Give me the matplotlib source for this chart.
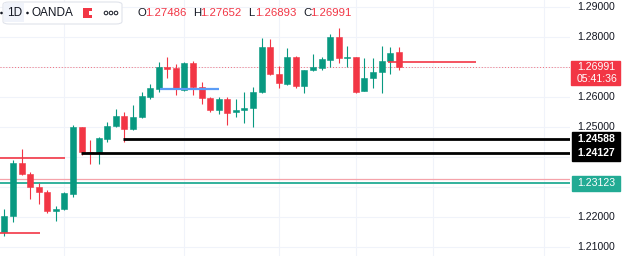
import numpy as np
import matplotlib.pyplot as plt
from matplotlib.patches import Rectangle, FancyBboxPatch, Ellipse
from matplotlib.transforms import blended_transform_factory

plt.rcParams['font.family'] = ['Liberation Sans', 'DejaVu Sans']

GREEN = "#089981"
RED = "#F23645"

# daily candles, oldest first
opens = [1.2150, 1.2203, 1.2380, 1.2343, 1.2300, 1.2283, 1.2220, 1.2227, 1.2277, 1.2500,
         1.2417, 1.2417, 1.2460, 1.2503, 1.2537, 1.2493, 1.2533, 1.2600, 1.2627, 1.2700,
         1.2697, 1.2623, 1.2713, 1.2633, 1.2597, 1.2557, 1.2593, 1.2550, 1.2557, 1.2563,
         1.2617, 1.2767, 1.2677, 1.2643, 1.2733, 1.2637, 1.2690, 1.2697, 1.2723, 1.2800,
         1.2730, 1.2733, 1.2620, 1.2663, 1.2683, 1.2720, 1.27486]
highs = [1.2227, 1.2390, 1.2427, 1.2350, 1.2313, 1.2290, 1.2237, 1.2283, 1.2507, 1.2500,
         1.2457, 1.2467, 1.2517, 1.2560, 1.2550, 1.2573, 1.2617, 1.2643, 1.2717, 1.2733,
         1.2710, 1.2717, 1.2720, 1.2650, 1.2600, 1.2600, 1.2600, 1.2593, 1.2617, 1.2633,
         1.2797, 1.2793, 1.2703, 1.2763, 1.2737, 1.2690, 1.2743, 1.2733, 1.2810, 1.2830,
         1.2770, 1.2733, 1.2730, 1.2730, 1.2770, 1.2767, 1.27652]
lows = [1.2137, 1.2183, 1.2340, 1.2260, 1.2243, 1.2213, 1.2187, 1.2223, 1.2267, 1.2407,
        1.2377, 1.2377, 1.2450, 1.2500, 1.2450, 1.2490, 1.2530, 1.2593, 1.2617, 1.2663,
        1.2607, 1.2620, 1.2607, 1.2577, 1.2550, 1.2543, 1.2507, 1.2533, 1.2513, 1.2500,
        1.2613, 1.2673, 1.2630, 1.2640, 1.2630, 1.2613, 1.2687, 1.2690, 1.2700, 1.2713,
        1.2700, 1.2613, 1.2620, 1.2630, 1.2613, 1.2677, 1.26893]
closes = [1.2203, 1.2380, 1.2343, 1.2300, 1.2283, 1.2220, 1.2227, 1.2280, 1.2500, 1.2417,
          1.2413, 1.2463, 1.2503, 1.2537, 1.2493, 1.2533, 1.2603, 1.2630, 1.2700, 1.2693,
          1.2627, 1.2713, 1.2633, 1.2597, 1.2557, 1.2593, 1.2547, 1.2557, 1.2563, 1.2617,
          1.2767, 1.2677, 1.2647, 1.2733, 1.2637, 1.2690, 1.2700, 1.2727, 1.2800, 1.2730,
          1.2733, 1.2617, 1.2663, 1.2683, 1.2720, 1.2747, 1.26991]

last_price = 1.26991
price_ticks = [1.21, 1.22, 1.25, 1.26, 1.28, 1.29]
grid_prices = [1.21, 1.22, 1.23, 1.24, 1.25, 1.26, 1.27, 1.28, 1.29]
grid_days = [7, 21, 32, 41, 50, 63]

# drawn levels: price, first day, last day
black_levels = [1.24588, 1.24127]
black_start = [13.8, 8.9]
green_level = 1.23123
pink_level = 1.23257
red_levels = [1.23967, 1.21477, 1.27177]
red_start = [-0.6, -0.6, 44.75]
red_end = [7.06, 4.14, 55.0]
blue_level = 1.26267
blue_span = [18.2, 25.0]

header_vals = [("O", "1.27486"), ("H", "1.27652"), ("L", "1.26893"), ("C", "1.26991")]

W, H = 625, 256
fig = plt.figure(figsize=(6.25, 2.56), dpi=100)
ax = fig.add_axes([0, 0, 570 / W, 1])
ax.set_xlim(-0.525, 65.99)
ax.set_ylim(1.292333 - 256 / 3000, 1.292333)
ax.set_axis_off()

for p in grid_prices:
    ax.axhline(p, color="#f0f3fa", lw=0.8, zorder=0)
for d in grid_days:
    ax.axvline(d, color="#f0f3fa", lw=0.8, zorder=0)

o = np.array(opens)
c = np.array(closes)
x = np.arange(len(o))
cols = np.where(c >= o, GREEN, RED)
ax.vlines(x, lows, highs, colors=cols, lw=0.8, zorder=3)
hgt = np.maximum(np.abs(c - o), 0.0003)
ax.bar(x, hgt, bottom=np.minimum(o, c), width=0.7, color=cols,
       edgecolor=cols, linewidth=0.4, zorder=4)

xmax = 66.5
ax.axhline(last_price, color=RED, lw=0.7, ls=(0, (1, 2)), alpha=0.7, zorder=2)
ax.hlines(pink_level, -1, xmax, color="#f5a3aa", lw=0.9, zorder=2)
ax.hlines(green_level, -1, xmax, color="#22ab94", lw=1.3, zorder=2)
for p, s in zip(black_levels, black_start):
    ax.hlines(p, s, xmax, color="black", lw=2.0, zorder=5)
for p, s, e in zip(red_levels, red_start, red_end):
    ax.hlines(p, s, e, color=RED, lw=1.2, zorder=5)
ax.hlines(blue_level, blue_span[0], blue_span[1], color="#5b9cf6", lw=1.6, zorder=5)

# price scale
tr = blended_transform_factory(fig.transFigure, ax.transData)
for p in price_ticks:
    ax.text(577 / W, p, f"{p:.5f}", transform=tr, fontsize=7.6, color="#131722",
            va="center", ha="left", clip_on=False)

px = 1 / 3000
ax.add_patch(Rectangle((571 / W, last_price - 17.5 * px), 49 / W, 24 * px,
                       transform=tr, color=RED, clip_on=False, zorder=6))
ax.text(577 / W, last_price, f"{last_price:.5f}", transform=tr, fontsize=7.6,
        color="white", va="center", ha="left", clip_on=False, zorder=7)
ax.text(577 / W, last_price - 12 * px, "05:41:36", transform=tr, fontsize=7.6,
        color="white", va="center", ha="left", clip_on=False, zorder=7)

ax.add_patch(Rectangle((572 / W, black_levels[1] - 8 * px), 48 / W,
                       (black_levels[0] - black_levels[1]) + 15 * px,
                       transform=tr, color="black", clip_on=False, zorder=6))
for p in black_levels:
    ax.text(577 / W, p, f"{p:.5f}", transform=tr, fontsize=7.6, color="white",
            va="center", ha="left", clip_on=False, zorder=7, fontweight="bold")

ax.add_patch(Rectangle((572 / W, green_level - 8 * px), 48 / W, 15 * px,
                       transform=tr, color="#22ab94", clip_on=False, zorder=6))
ax.text(577 / W, green_level, f"{green_level:.5f}", transform=tr, fontsize=7.6,
        color="white", va="center", ha="left", clip_on=False, zorder=7)

# header
def fy(ypx):
    return 1 - ypx / H

fig.patches.append(FancyBboxPatch((3 / W, fy(24)), 119 / W, 22 / H,
                                  boxstyle="round,pad=0,rounding_size=0.01",
                                  transform=fig.transFigure, facecolor="white",
                                  edgecolor="#e0e3eb", lw=0.8, zorder=8))
fig.patches.append(Rectangle((4 / W, fy(22)), 20 / W, 19 / H, transform=fig.transFigure,
                             facecolor="#f0f3fa", edgecolor="none", zorder=9))
for xd in (1.5, 27.5):
    fig.patches.append(Ellipse((xd / W, fy(13)), 2.6 / W, 2.6 / H,
                               transform=fig.transFigure, facecolor="#131722",
                               edgecolor="none", zorder=10))
fig.text(7 / W, fy(13), "1D", fontsize=8.5, color="#131722", va="center", zorder=10)
fig.text(32 / W, fy(13), "OANDA", fontsize=8.5, color="#131722", va="center", zorder=10)
fig.patches.append(Rectangle((83 / W, fy(18)), 9 / W, 10 / H, transform=fig.transFigure,
                             facecolor=RED, edgecolor="none", zorder=10))
fig.patches.append(Rectangle((89 / W, fy(15)), 3 / W, 4 / H, transform=fig.transFigure,
                             facecolor="white", edgecolor="none", zorder=11))
for k in range(3):
    fig.patches.append(Ellipse(((106 + 5 * k) / W, fy(13)), 3.6 / W, 3.6 / H,
                               transform=fig.transFigure, facecolor="none",
                               edgecolor="#131722", lw=0.7, zorder=10))

xh = 138
for lab, val in header_vals:
    fig.text(xh / W, fy(13), lab, fontsize=8.2, color="#131722", va="center")
    fig.text((xh + 7.5) / W, fy(13), val, fontsize=8.2, color=RED, va="center")
    xh += 55

fig.savefig("out.png", dpi=100)
